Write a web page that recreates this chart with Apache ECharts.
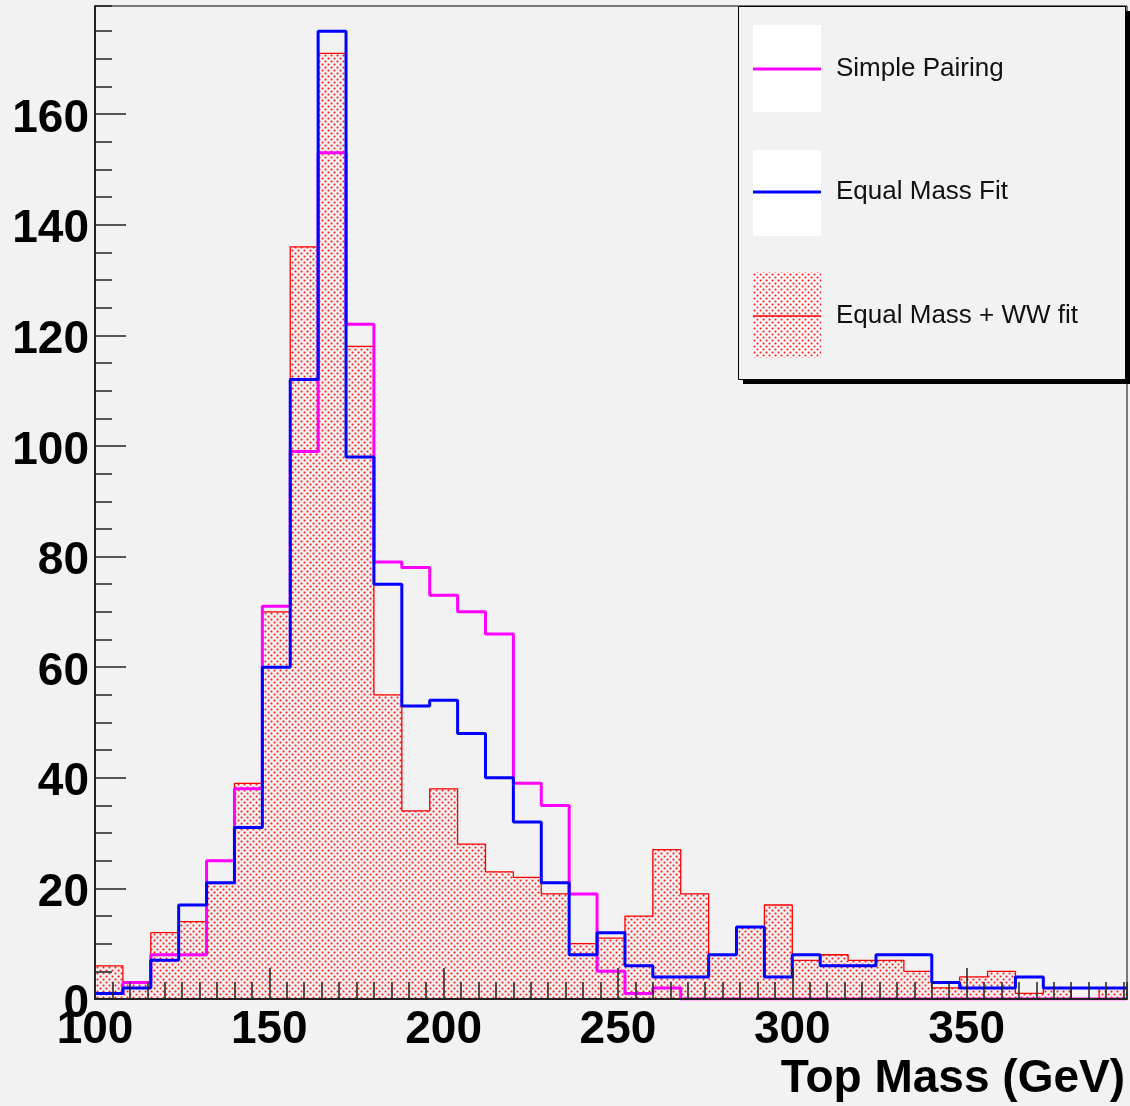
<!DOCTYPE html>
<html><head><meta charset="utf-8">
<script src="https://cdn.jsdelivr.net/npm/echarts@6/dist/echarts.min.js"></script>
<style>html,body{margin:0;padding:0;background:#f2f2f2;}#c{width:1130px;height:1106px;}</style>
</head><body><div id="c"></div>
<script>
// ---- data ----
const xMin = 100;
const binWidth = 8;
const xMax = 396;
const yMax = 179.55;
const seriesNames = ['Simple Pairing', 'Equal Mass Fit', 'Equal Mass + WW fit'];
const simplePairing = [1, 3, 8, 8, 25, 38, 71, 99, 153, 122, 79, 78, 73, 70, 66, 39, 35, 19, 5, 1, 2, 0, 0, 0, 0, 0, 0, 0, 0, 0, 0, 0, 0, 0, 0, 0, 0];
const equalMassFit  = [1, 2, 7, 17, 21, 31, 60, 112, 175, 98, 75, 53, 54, 48, 40, 32, 21, 8, 12, 6, 4, 4, 8, 13, 4, 8, 6, 6, 8, 8, 3, 2, 2, 4, 2, 2, 2];
const equalMassWW   = [6, 3, 12, 14, 21, 39, 70, 136, 171, 118, 55, 34, 38, 28, 23, 22, 19, 10, 11, 15, 27, 19, 8, 13, 17, 7, 8, 7, 7, 5, 2, 4, 5, 1, 2, 0, 2];
const xTickLabels = [100, 150, 200, 250, 300, 350];
const yTickLabels = [0, 20, 40, 60, 80, 100, 120, 140, 160];
const xTitle = 'Top Mass (GeV)';

// ---- helpers ----
function steps(vals) {
  const pts = vals.map((v, i) => [xMin + i * binWidth, v]);
  pts.push([xMin + vals.length * binWidth, vals[vals.length - 1]]);
  return pts;
}
function makePattern() {
  const c = document.createElement('canvas');
  c.width = 6; c.height = 6;
  const g = c.getContext('2d');
  g.fillStyle = '#ff1010';
  g.fillRect(0.6, 0.6, 1.8, 1.8);
  g.fillRect(3.6, 3.6, 1.8, 1.8);
  return c;
}
const pat = makePattern();
const dotFill = { image: pat, repeat: 'repeat' };

const boldFont = '"Liberation Sans", Arial, Helvetica, sans-serif';
const axisLabelBase = { color: '#000', fontSize: 46, fontWeight: 'bold', fontFamily: boldFont };

const chart = echarts.init(document.getElementById('c'), null, { renderer: 'canvas' });
const option = {
  animation: false,
  backgroundColor: '#f2f2f2',
  grid: { left: 95, right: 3, top: 6, bottom: 107, show: true, borderColor: '#000', borderWidth: 1, backgroundColor: '#f2f2f2' },
  xAxis: [
    { type: 'value', min: xMin, max: xMax, interval: 50, position: 'bottom', z: 10,
      axisLine: { show: true, onZero: false, lineStyle: { color: '#222', width: 2 } },
      axisTick: { inside: true, length: 31, lineStyle: { color: '#222', width: 1.5 } },
      axisLabel: Object.assign({}, axisLabelBase, { margin: 8, showMaxLabel: false,
        formatter: v => xTickLabels.includes(v) ? String(v) : '' }),
      splitLine: { show: false } },
    { type: 'value', min: xMin, max: xMax, interval: 5, position: 'bottom', z: 10,
      axisLine: { show: false },
      axisTick: { inside: true, length: 17, lineStyle: { color: '#222', width: 1.5 } },
      axisLabel: { show: false }, splitLine: { show: false } }
  ],
  yAxis: [
    { type: 'value', min: 0, max: yMax, interval: 20, position: 'left', z: 10,
      axisLine: { show: true, onZero: false, lineStyle: { color: '#222', width: 2 } },
      axisTick: { inside: true, length: 31, lineStyle: { color: '#222', width: 1.5 } },
      axisLabel: Object.assign({}, axisLabelBase, { margin: 6, showMaxLabel: false,
        verticalAlign: 'top', lineHeight: 10,
        formatter: v => yTickLabels.includes(v) ? String(v) : '' }),
      splitLine: { show: false } },
    { type: 'value', min: 0, max: yMax, interval: 5, position: 'left', z: 10,
      axisLine: { show: false },
      axisTick: { inside: true, length: 17, lineStyle: { color: '#222', width: 1.5 } },
      axisLabel: { show: false }, splitLine: { show: false } }
  ],
  series: [
    { name: seriesNames[2], type: 'line', step: 'end', data: steps(equalMassWW), symbol: 'none', z: 2,
      lineStyle: { color: '#ff0000', width: 1.3 }, areaStyle: { color: dotFill, opacity: 1 } },
    { name: seriesNames[0], type: 'line', step: 'end', data: steps(simplePairing), symbol: 'none', z: 3,
      lineStyle: { color: '#ff00ff', width: 3 } },
    { name: seriesNames[1], type: 'line', step: 'end', data: steps(equalMassFit), symbol: 'none', z: 4,
      lineStyle: { color: '#0000ff', width: 3 } }
  ],
  graphic: [
    { type: 'text', right: 5, top: 1056, z: 100,
      style: { text: xTitle, font: 'bold 46px ' + boldFont, fill: '#000' } },
    // legend
    { type: 'rect', z: 100, shape: { x: 743, y: 11, width: 387, height: 373 }, style: { fill: '#000' } },
    { type: 'rect', z: 101, shape: { x: 738.5, y: 6.5, width: 387, height: 373 }, style: { fill: '#f2f2f2', stroke: '#000', lineWidth: 1 } },
    { type: 'rect', z: 102, shape: { x: 753, y: 25, width: 68, height: 87 }, style: { fill: '#fff' } },
    { type: 'rect', z: 102, shape: { x: 753, y: 150, width: 68, height: 86 }, style: { fill: '#fff' } },
    { type: 'rect', z: 102, shape: { x: 753, y: 272, width: 68, height: 86 }, style: { fill: '#fff' } },
    { type: 'rect', z: 103, shape: { x: 753, y: 272, width: 68, height: 86 }, style: { fill: dotFill } },
    { type: 'line', z: 104, shape: { x1: 753, y1: 69, x2: 821, y2: 69 }, style: { stroke: '#ff00ff', lineWidth: 3 } },
    { type: 'line', z: 104, shape: { x1: 753, y1: 192, x2: 821, y2: 192 }, style: { stroke: '#0000ff', lineWidth: 3 } },
    { type: 'line', z: 104, shape: { x1: 753, y1: 316, x2: 821, y2: 316 }, style: { stroke: '#ff0000', lineWidth: 1.5 } },
    { type: 'text', z: 104, x: 836, y: 69, style: { text: seriesNames[0], font: '26px ' + boldFont, fill: '#111', verticalAlign: 'middle' } },
    { type: 'text', z: 104, x: 836, y: 192, style: { text: seriesNames[1], font: '26px ' + boldFont, fill: '#111', verticalAlign: 'middle' } },
    { type: 'text', z: 104, x: 836, y: 316, style: { text: seriesNames[2], font: '26px ' + boldFont, fill: '#111', verticalAlign: 'middle' } }
  ]
};
chart.setOption(option);
</script>
</body></html>
